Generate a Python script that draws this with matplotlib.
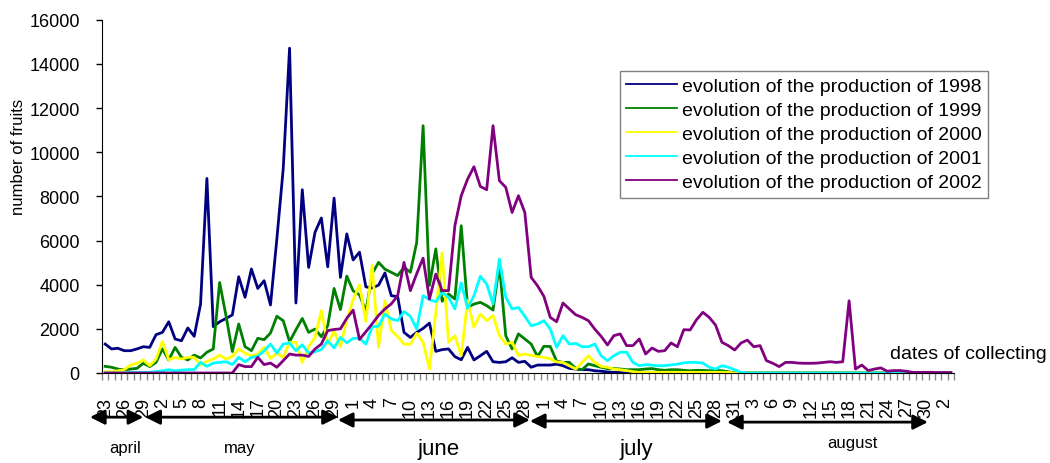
import numpy as np
import matplotlib
matplotlib.use('Agg')
import matplotlib.pyplot as plt
import matplotlib.transforms as mtransforms

plt.rcParams['font.family'] = ['Liberation Sans', 'DejaVu Sans']

# daily collecting dates, 23 april -> 3 september (134 days)
n_days = 134
tick_labels = ['23', '26', '29',
               '2', '5', '8', '11', '14', '17', '20', '23', '26', '29',
               '1', '4', '7', '10', '13', '16', '19', '22', '25', '28',
               '1', '4', '7', '10', '13', '16', '19', '22', '25', '28', '31',
               '3', '6', '9', '12', '15', '18', '21', '24', '27', '30',
               '2']

prod_1998 = [1310, 1090, 1120, 1010, 1010, 1090, 1190, 1160, 1735, 1840,
             2320, 1540, 1460, 2040, 1660, 3120, 8810, 2100, 2320, 2470,
             2630, 4360, 3430, 4710, 3830, 4180, 3080, 6070, 9240, 14710,
             3170, 8300, 4780, 6370, 7020, 4810, 7920, 4330, 6300, 5120,
             5470, 3900, 3850, 3980, 4530, 3500, 3460, 1840, 1610, 1840,
             2020, 2260, 980, 1060, 1090, 740, 600, 1160, 590, 780,
             980, 510, 480, 510, 690, 480, 530, 260, 360, 360,
             360, 400, 330, 210, 180, 150, 150, 100, 80, 50,
             30, 20, 0, 0, 0, 0, 0, 0, 0, 0,
             0, 0, 0, 0, 0, 0, 0, 0, 0, 0,
             0, 0, 0, 0, 0, 0, 0, 0, 0, 0,
             0, 0, 0, 0, 0, 0, 0, 0, 0, 0,
             0, 0, 0, 0, 0, 0, 0, 0, 0, 0,
             0, 0, 0, 0]

prod_1999 = [300, 260, 180, 140, 180, 210, 440, 290, 480, 1090,
             590, 1160, 710, 590, 810, 680, 940, 1090, 4100, 2600,
             970, 2220, 1190, 1010, 1570, 1510, 1810, 2570, 2370, 1420,
             1960, 2470, 1840, 1990, 1640, 2140, 3830, 2870, 4390, 3720,
             3540, 2800, 4500, 5010, 4700, 4560, 4410, 4790, 4560, 5920,
             11200, 3960, 5620, 3250, 3580, 3350, 6670, 2970, 3120, 3200,
             3050, 2850, 4900, 1690, 1090, 1770, 1540, 1310, 740, 1210,
             1200, 540, 480, 480, 210, 150, 410, 330, 260, 200,
             200, 180, 150, 150, 150, 180, 200, 150, 120, 150,
             150, 120, 100, 120, 120, 100, 120, 100, 60, 0,
             0, 0, 0, 0, 0, 0, 0, 0, 0, 0,
             0, 0, 0, 0, 0, 0, 0, 0, 0, 0,
             0, 0, 0, 0, 0, 0, 0, 0, 0, 0,
             0, 0, 0, 0]

prod_2000 = [50, 60, 100, 150, 360, 440, 590, 330, 630, 1430,
             600, 710, 630, 710, 710, 360, 530, 630, 810, 630,
             750, 1090, 900, 780, 860, 1160, 660, 890, 710, 1390,
             1390, 480, 1200, 1600, 2820, 1310, 1900, 1200, 2400, 3330,
             3990, 2330, 4880, 1160, 3270, 1920, 1660, 1300, 1300, 1800,
             1400, 180, 2750, 5450, 1390, 1690, 790, 3280, 2070, 2670,
             2370, 2600, 1690, 1310, 1390, 790, 860, 800, 740, 710,
             640, 500, 480, 330, 180, 480, 780, 480, 300, 260,
             180, 150, 110, 60, 30, 30, 30, 30, 30, 30,
             30, 30, 30, 30, 30, 30, 30, 30, 30, 0,
             0, 0, 0, 0, 0, 0, 0, 0, 0, 0,
             0, 0, 0, 0, 0, 0, 0, 0, 0, 0,
             0, 0, 0, 0, 0, 0, 0, 0, 0, 0,
             0, 0, 0, 0]

prod_2001 = [0, 0, 0, 0, 30, 30, 30, 30, 60, 100,
             150, 100, 130, 150, 150, 480, 300, 450, 480, 510,
             380, 710, 510, 710, 750, 1010, 1310, 900, 1310, 1360,
             1010, 1280, 900, 970, 1060, 1460, 1140, 1610, 1370, 1570,
             1570, 1310, 2100, 2120, 2670, 2450, 2370, 2780, 2570, 1990,
             3500, 3320, 3230, 3650, 3430, 2900, 4080, 2930, 3500, 4380,
             4030, 3130, 5160, 3430, 2900, 2970, 2570, 2140, 2220, 2370,
             1990, 1160, 1690, 1310, 1340, 1190, 1190, 1310, 780, 560,
             780, 940, 940, 480, 330, 380, 350, 330, 330, 370,
             400, 460, 480, 480, 450, 260, 180, 330, 260, 150,
             30, 0, 0, 0, 0, 0, 0, 0, 0, 0,
             0, 0, 0, 0, 0, 0, 0, 0, 0, 0,
             0, 0, 0, 0, 0, 0, 0, 0, 0, 0,
             0, 0, 0, 0]

prod_2002 = [0, 0, 0, 0, 0, 0, 0, 0, 0, 0,
             0, 0, 0, 0, 0, 0, 0, 0, 0, 0,
             0, 380, 290, 290, 710, 380, 450, 260, 560, 860,
             810, 810, 750, 1090, 1310, 1920, 1970, 2000, 2480, 2850,
             1520, 1870, 2230, 2610, 2900, 3130, 3500, 5010, 3730, 4500,
             5200, 3350, 4480, 3730, 3730, 6670, 8030, 8780, 9340, 8450,
             8300, 11200, 8710, 8410, 7270, 8030, 7270, 4330, 3950, 3470,
             2520, 2320, 3170, 2900, 2640, 2520, 2370, 1990, 1660, 1270,
             1690, 1770, 1240, 1240, 1540, 860, 1130, 980, 1010, 1360,
             1190, 1960, 1950, 2410, 2750, 2520, 2170, 1390, 1240, 1040,
             1360, 1490, 1190, 1240, 560, 440, 290, 480, 480, 450,
             440, 440, 450, 480, 510, 480, 510, 3270, 180, 360,
             110, 180, 230, 80, 110, 110, 80, 30, 30, 30,
             30, 20, 20, 20]

series = [prod_1998, prod_1999, prod_2000, prod_2001, prod_2002]
years = ['1998', '1999', '2000', '2001', '2002']
colors = ['#000080', '#008000', '#FFFF00', '#00FFFF', '#800080']

# month arrows under the axis: (name, start, end, arrow y, label x, label y, size)
months = [('april', -2.4, 6.0, -0.125, 3.1, -0.212, 12),
          ('may', 6.3, 36.6, -0.125, 21.2, -0.212, 12),
          ('june', 36.6, 66.8, -0.133, 52.4, -0.215, 16),
          ('july', 66.8, 97.0, -0.136, 83.6, -0.215, 16),
          ('august', 97.8, 129.4, -0.139, 117.6, -0.197, 12)]

fig = plt.figure(figsize=(10.5, 4.64), dpi=100)
ax = fig.add_axes([102/1050, 1-374/464, 852/1050, 353.3/464])

x = np.arange(n_days)
for vals, yr, c in zip(series, years, colors):
    ax.plot(x, vals, color=c, lw=2.0, label='evolution of the production of ' + yr)

ax.set_xlim(-0.5, n_days - 0.5)
ax.set_ylim(0, 16000)
ax.set_yticks(range(0, 16001, 2000))
ax.tick_params(axis='y', length=4, width=1, pad=12, labelsize=13)

# small ticks between every day, labels every 3rd day
ax.set_xticks(np.arange(-0.5, n_days, 1))
ax.set_xticklabels([])
ax.tick_params(axis='x', which='major', length=5, color='#888888', width=1)
ax.set_xticks(x[::3], minor=True)
ax.set_xticklabels(tick_labels, minor=True, rotation=90, fontsize=13)
ax.tick_params(axis='x', which='minor', length=0, pad=17)

for s in ['top', 'right']:
    ax.spines[s].set_visible(False)

trans = mtransforms.blended_transform_factory(ax.transData, ax.transAxes)
for name, x0, x1, ya, xl, yl, fs in months:
    ax.annotate('', xy=(x1, ya), xytext=(x0, ya), xycoords=trans, textcoords=trans,
                annotation_clip=False,
                arrowprops=dict(arrowstyle='<|-|>', color='black', lw=2,
                                mutation_scale=22, shrinkA=0, shrinkB=0))
    ax.text(xl, yl, name, transform=trans, ha='center', va='center',
            fontsize=fs, clip_on=False)

leg = ax.legend(loc='upper left', bbox_to_anchor=(620/1050, 1-72/464),
                bbox_transform=fig.transFigure, fontsize=14, frameon=True,
                fancybox=False, edgecolor='#808080', framealpha=1,
                handlelength=2.6, handletextpad=0.27, labelspacing=0.33,
                borderpad=0.33, borderaxespad=0)
leg.get_frame().set_linewidth(1.0)
for line in leg.get_lines():
    line.set_linewidth(1.3)

fig.text(19/1050, 1-157/464, 'number of fruits', rotation=90,
         ha='center', va='center', fontsize=12)
fig.text(890/1050, 1-355/464, 'dates of collecting', ha='left', va='center',
         fontsize=14)

plt.savefig('out.png', dpi=100)
